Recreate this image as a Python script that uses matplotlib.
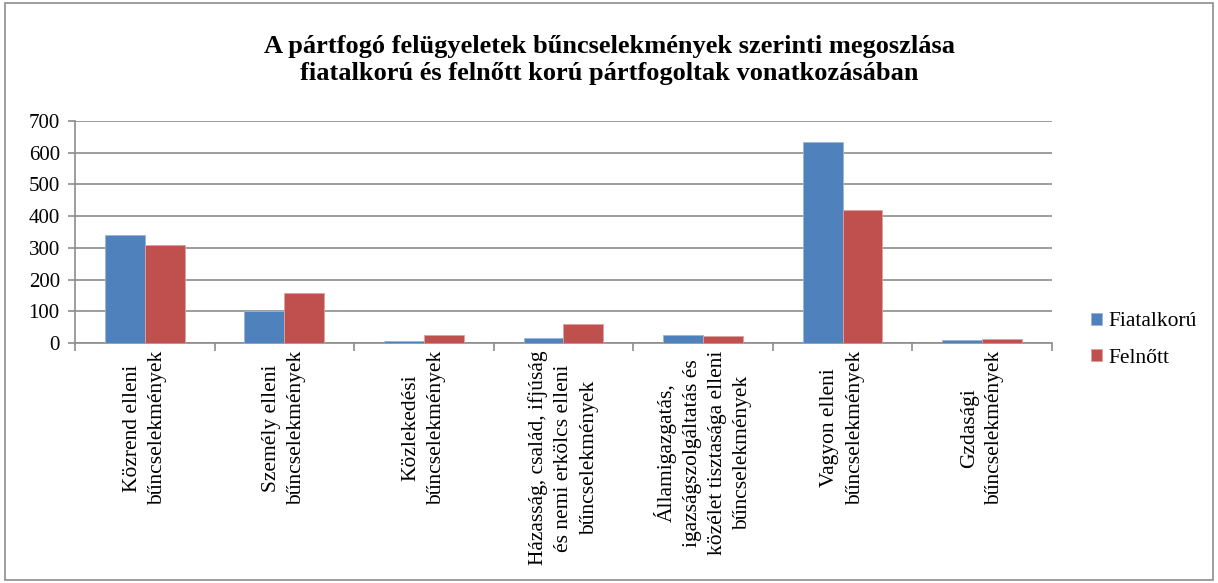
import numpy as np
import matplotlib.pyplot as plt
from matplotlib.patches import Rectangle

plt.rcParams['font.family'] = ['Liberation Serif', 'DejaVu Serif']

categories = [
    'Közrend elleni\nbűncselekmények',
    'Személy elleni\nbűncselekmények',
    'Közlekedési\nbűncselekmények',
    'Házasság, család, ifjúság\nés nemi erkölcs elleni\nbűncselekmények',
    'Államigazgatás,\nigazságszolgáltatás és\nközélet tisztasága elleni\nbűncselekmények',
    'Vagyon elleni\nbűncselekmények',
    'Gzdasági\nbűncselekmények',
]
fiatalkoru = [339, 101, 6, 15, 26, 633, 10]
felnott = [310, 158, 25, 61, 23, 418, 13]
series_names = ['Fiatalkorú', 'Felnőtt']
colors = ['#4f81bd', '#c0504d']

fig = plt.figure(figsize=(12.18, 5.83), dpi=100)
ax = fig.add_axes([0.0616, 0.4117, 0.802, 0.381])

x = np.arange(len(categories))
w = 0.2857
b1 = ax.bar(x - w / 2, fiatalkoru, w, color=colors[0], edgecolor='#9bb5d9', linewidth=0.6, zorder=3)
b2 = ax.bar(x + w / 2, felnott, w, color=colors[1], edgecolor='#e0a09e', linewidth=0.6, zorder=3)

ax.set_xlim(-0.5, len(categories) - 0.5)
ax.set_ylim(0, 700)
ax.set_yticks(range(0, 701, 100))
ax.yaxis.grid(True, color='#8c8c8c', linewidth=1.2, zorder=0)
ax.set_axisbelow(True)

ax.set_xticks(np.arange(len(categories) + 1) - 0.5)
ax.set_xticklabels([])
ax.tick_params(axis='x', length=6, color='#8c8c8c', width=1.2)
ax.tick_params(axis='y', length=5, color='#8c8c8c', width=1.2, labelsize=15, pad=6)
for s in ['top', 'right']:
    ax.spines[s].set_visible(False)
for s in ['left', 'bottom']:
    ax.spines[s].set_color('#8c8c8c')
    ax.spines[s].set_linewidth(1.2)

for i, lab in enumerate(categories):
    ax.text(i, -25, lab, rotation=90, ha='center', va='top', fontsize=15.5,
            multialignment='center', linespacing=1.45)

fig.text(0.5, 0.897, 'A pártfogó felügyeletek bűncselekmények szerinti megoszlása\n'
         'fiatalkorú és felnőtt korú pártfogoltak vonatkozásában',
         ha='center', va='center', fontsize=19, fontweight='bold', linespacing=1.2)

fig.legend([b1, b2], series_names, loc='center left', bbox_to_anchor=(0.880, 0.417),
           frameon=False, fontsize=15.5, handlelength=0.5, handleheight=0.5,
           labelspacing=0.8, handletextpad=0.3)

fig.patches.append(Rectangle((0.004, 0.005), 0.992, 0.99, transform=fig.transFigure,
                             fill=False, edgecolor='#8c8c8c', linewidth=1.2))

plt.savefig('out.png', dpi=100)
